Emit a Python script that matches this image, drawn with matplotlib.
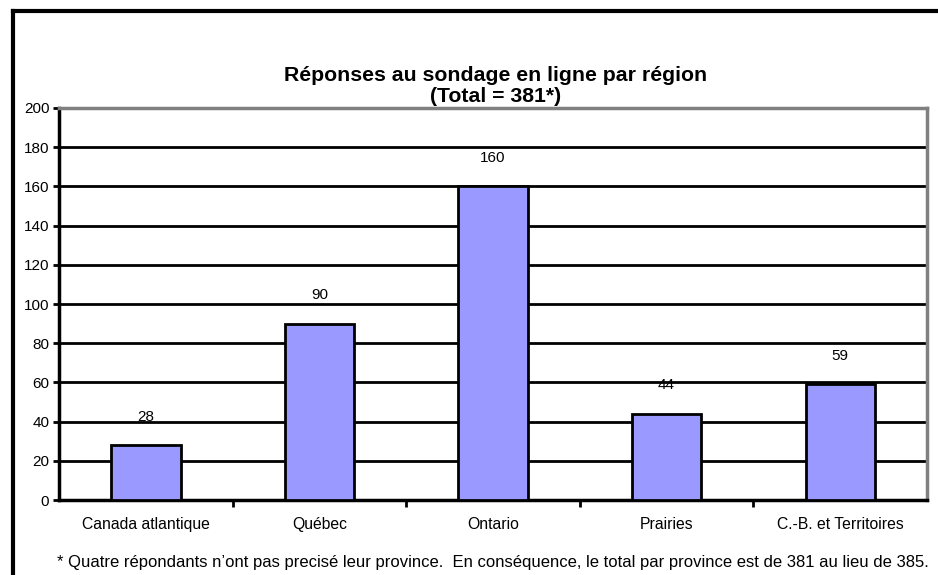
import matplotlib
matplotlib.use("Agg")
import matplotlib.pyplot as plt
from matplotlib.lines import Line2D

plt.rcParams['font.family'] = ['Liberation Sans', 'DejaVu Sans']

regions = ['Canada atlantique', 'Québec', 'Ontario', 'Prairies', 'C.-B. et Territoires']
responses = [28, 90, 160, 44, 59]
y_ticks = list(range(0, 201, 20))

fig = plt.figure(figsize=(9.38, 5.75), dpi=100)
ax = fig.add_axes([0.0629, 0.1304, 0.9254, 0.6818])

x = range(len(regions))
ax.bar(x, responses, width=0.4, color='#9999FF', edgecolor='black', linewidth=2, zorder=3)

# value labels above the bars
for xi, v in zip(x, responses):
    ax.text(xi, v + 11, str(v), ha='center', va='bottom', fontsize=11)

ax.set_xlim(-0.5, len(regions) - 0.5)
ax.set_ylim(0, 200)
ax.set_yticks(y_ticks)
ax.tick_params(axis='y', labelsize=11, length=4, width=2, direction='out', pad=3)
ax.yaxis.grid(True, color='black', linewidth=2, zorder=0)
ax.set_axisbelow(True)

# category labels between tick marks
ax.set_xticks([i + 0.5 for i in range(len(regions) - 1)])
ax.set_xticklabels([])
ax.tick_params(axis='x', length=5, width=2, direction='out')
ax.set_xticks(list(x), minor=True)
ax.set_xticklabels(regions, minor=True, fontsize=11.3)
ax.tick_params(axis='x', which='minor', length=0, pad=12)

for side in ['left', 'bottom']:
    ax.spines[side].set_linewidth(2.5)
    ax.spines[side].set_color('black')
for side in ['top', 'right']:
    ax.spines[side].set_linewidth(2.5)
    ax.spines[side].set_color('#808080')

fig.text(0.528, 0.850, 'Réponses au sondage en ligne par région\n(Total = 381*)',
         ha='center', va='center', fontsize=15.3, fontweight='bold', linespacing=1.15)

fig.text(0.061, 0.022, "* Quatre répondants n’ont pas precisé leur province.  En conséquence, "
         "le total par province est de 381 au lieu de 385.", ha='left', va='center', fontsize=12)

# outer chart frame (cropped on right and bottom)
fig.add_artist(Line2D([0.0135, 0.0135], [0.0, 0.981], color='black', linewidth=3))
fig.add_artist(Line2D([0.0135, 1.0], [0.981, 0.981], color='black', linewidth=3))

fig.savefig('out.png', dpi=100)
